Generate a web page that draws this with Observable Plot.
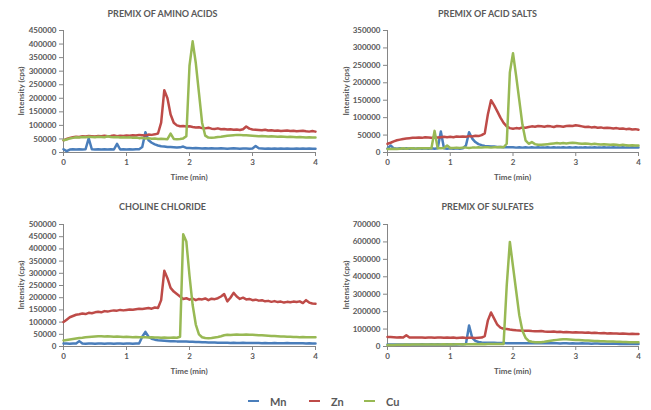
<!DOCTYPE html>
<html><head><meta charset="utf-8">
<script src="https://cdn.jsdelivr.net/npm/d3@7"></script>
<script src="https://cdn.jsdelivr.net/npm/@observablehq/plot@0.6"></script>
<style>
body{margin:0;background:#fff;}
#chart{position:relative;width:651px;height:410px;overflow:hidden;font-family:Lato,"Open Sans",sans-serif;color:#595959;}
.panel{position:absolute;}
.lbl{position:absolute;font-weight:bold;white-space:nowrap;transform:translate(-50%,-50%);}
.title{font-size:9px;}
.axl{font-size:8px;}
.leg{position:absolute;font-weight:bold;font-size:11px;transform:translateY(-50%);}
.sw{position:absolute;height:2px;width:11px;}
</style>
</head><body>
<div id="chart"></div>
<script>
// time (min), one sample every 0.05 min
const time = [0,0.05,0.1,0.15,0.2,0.25,0.3,0.35,0.4,0.45,0.5,0.55,0.6,0.65,0.7,0.75,0.8,0.85,0.9,0.95,
1,1.05,1.1,1.15,1.2,1.25,1.3,1.35,1.4,1.45,1.5,1.55,1.6,1.65,1.7,1.75,1.8,1.85,1.9,1.95,
2,2.05,2.1,2.15,2.2,2.25,2.3,2.35,2.4,2.45,2.5,2.55,2.6,2.65,2.7,2.75,2.8,2.85,2.9,2.95,
3,3.05,3.1,3.15,3.2,3.25,3.3,3.35,3.4,3.45,3.5,3.55,3.6,3.65,3.7,3.75,3.8,3.85,3.9,3.95,4];

const seriesNames = ["Mn","Zn","Cu"];
const seriesColors = ["#4a7ebb","#be4b48","#98b954"];
const xTicks = [0,1,2,3,4];

// PREMIX OF AMINO ACIDS
const aminoMn = [12000,5000,11000,12000,11000,12000,11000,12000,52000,12000,
11000,12000,11000,12000,11000,12000,11000,32000,11000,12000,
11000,12000,11000,12000,12000,20000,75000,45000,36000,30000,
26000,23000,22000,20000,20000,19000,18000,19000,22000,17000,
17000,16000,17000,16000,15000,16000,15000,16000,15000,15000,
16000,15000,14000,15000,16000,15000,14000,15000,15000,14000,
15000,24000,16000,15000,14000,15000,14000,15000,14000,15000,
14000,15000,14000,14000,15000,14000,15000,14000,15000,14000,14000];
const aminoZn = [45000,50000,54000,56000,58000,57000,60000,59000,61000,60000,
59000,61000,60000,62000,60000,61000,63000,60000,62000,61000,
63000,62000,64000,63000,65000,64000,63000,66000,65000,67000,
70000,110000,230000,200000,140000,110000,100000,97000,98000,96000,
97000,94000,92000,93000,90000,89000,91000,88000,87000,89000,
86000,87000,85000,86000,84000,85000,83000,86000,96000,88000,
85000,84000,83000,82000,84000,81000,82000,80000,81000,79000,
80000,81000,79000,80000,78000,79000,80000,78000,77000,79000,77000];
const aminoCu = [45000,48000,52000,54000,56000,55000,57000,56000,58000,57000,
56000,58000,57000,56000,60000,57000,56000,57000,55000,56000,
55000,56000,54000,55000,53000,54000,52000,53000,51000,52000,
50000,51000,50000,49000,70000,50000,49000,50000,52000,60000,
320000,410000,330000,220000,110000,62000,55000,54000,55000,57000,
58000,60000,62000,63000,64000,65000,65000,64000,64000,63000,
62000,61000,60000,61000,60000,59000,60000,59000,58000,59000,
58000,57000,58000,57000,56000,57000,56000,55000,56000,55000,55000];

// PREMIX OF ACID SALTS
const saltsMn = [12000,20000,12000,11000,12000,11000,12000,11000,12000,11000,
12000,11000,12000,11000,12000,11000,12000,60000,12000,11000,
12000,11000,12000,11000,12000,20000,58000,40000,30000,24000,
21000,19000,18000,17000,17000,16000,16000,15000,15000,15000,
15000,14000,15000,14000,15000,14000,15000,14000,15000,14000,
14000,15000,14000,15000,14000,14000,15000,14000,15000,14000,
15000,14000,14000,15000,14000,14000,15000,14000,14000,15000,
14000,14000,15000,14000,14000,15000,14000,14000,15000,14000,14000];
const saltsZn = [25000,28000,32000,35000,37000,39000,40000,41000,42000,42000,
43000,42000,44000,43000,42000,44000,43000,44000,45000,44000,
45000,44000,46000,45000,46000,45000,47000,46000,48000,47000,
50000,55000,110000,150000,135000,118000,100000,85000,75000,70000,
68000,70000,69000,72000,71000,73000,75000,74000,76000,75000,
74000,76000,75000,73000,76000,75000,74000,76000,77000,76000,
78000,77000,75000,73000,74000,72000,73000,71000,72000,70000,
71000,70000,69000,70000,68000,69000,67000,68000,66000,67000,65000];
const saltsCu = [10000,10000,11000,10000,11000,12000,11000,12000,12000,11000,
12000,12000,12000,12000,12000,62000,12000,12000,13000,20000,
13000,13000,14000,13000,14000,14000,13000,14000,14000,15000,
14000,15000,15000,14000,15000,15000,16000,15000,25000,230000,
285000,220000,150000,80000,35000,25000,30000,24000,22000,22000,
23000,24000,25000,26000,27000,26000,27000,26000,27000,28000,
27000,26000,25000,26000,25000,24000,25000,24000,23000,24000,
23000,22000,23000,22000,21000,22000,21000,20000,21000,20000,20000];

// CHOLINE CHLORIDE
const cholineMn = [12000,12000,11000,12000,12000,22000,12000,11000,12000,12000,
11000,12000,12000,11000,12000,12000,11000,12000,12000,11000,
12000,12000,11000,12000,12000,40000,60000,40000,32000,28000,
26000,25000,24000,23000,22000,22000,21000,21000,20000,20000,
19000,19000,18000,18000,17000,17000,16000,16000,16000,15000,
15000,15000,15000,14000,15000,14000,14000,15000,14000,14000,
14000,14000,14000,13000,14000,13000,13000,14000,13000,13000,
13000,14000,13000,13000,13000,13000,13000,12000,13000,12000,12000];
const cholineZn = [100000,110000,120000,125000,130000,132000,135000,133000,138000,136000,
140000,142000,140000,145000,143000,146000,148000,147000,150000,148000,
150000,152000,151000,153000,155000,154000,156000,158000,155000,160000,
158000,190000,310000,280000,240000,225000,215000,205000,195000,198000,
192000,196000,190000,195000,193000,197000,190000,196000,194000,198000,
205000,215000,185000,200000,220000,205000,195000,200000,193000,195000,
190000,192000,188000,190000,185000,187000,183000,186000,182000,184000,
180000,183000,181000,184000,182000,185000,178000,190000,180000,176000,175000];
const cholineCu = [25000,27000,29000,31000,33000,35000,36000,38000,39000,40000,
41000,42000,42000,41000,42000,41000,40000,41000,40000,39000,
40000,39000,38000,39000,38000,38000,38000,37000,38000,37000,
37000,36000,37000,36000,36000,37000,36000,40000,460000,430000,
290000,170000,90000,50000,38000,35000,34000,35000,37000,39000,
42000,46000,48000,47000,48000,49000,48000,48000,49000,48000,
48000,47000,46000,46000,45000,44000,43000,43000,42000,41000,
41000,40000,40000,39000,39000,38000,39000,38000,38000,38000,38000];

// PREMIX OF SULFATES
const sulfatesMn = [12000,12000,11000,12000,12000,11000,12000,12000,11000,12000,
12000,13000,12000,12000,13000,12000,13000,12000,12000,13000,
12000,13000,12000,13000,13000,15000,120000,50000,32000,26000,
23000,22000,21000,21000,22000,20000,20000,20000,19000,19000,
19000,18000,19000,18000,19000,18000,18000,19000,18000,18000,
18000,18000,19000,18000,18000,17000,18000,18000,17000,18000,
17000,17000,18000,17000,17000,16000,17000,17000,16000,16000,
16000,16000,17000,16000,15000,16000,15000,15000,16000,15000,15000];
const sulfatesZn = [55000,54000,53000,52000,53000,52000,65000,52000,51000,52000,
51000,52000,50000,51000,52000,50000,51000,52000,50000,51000,
50000,51000,49000,50000,51000,49000,50000,50000,49000,50000,
51000,60000,150000,195000,160000,125000,108000,102000,100000,97000,
95000,93000,92000,91000,90000,91000,89000,88000,87000,89000,
86000,85000,84000,86000,83000,84000,82000,83000,82000,81000,
82000,80000,81000,79000,80000,78000,79000,77000,76000,77000,
75000,76000,74000,75000,73000,74000,73000,72000,73000,72000,72000];
const sulfatesCu = [8000,9000,9000,10000,10000,10000,11000,10000,11000,11000,
11000,11000,12000,11000,12000,12000,12000,12000,13000,12000,
13000,12000,13000,13000,12000,13000,13000,13000,14000,13000,
14000,13000,14000,14000,14000,15000,14000,15000,350000,600000,
460000,320000,180000,90000,50000,32000,27000,25000,24000,25000,
27000,30000,33000,36000,38000,40000,42000,41000,40000,39000,
38000,37000,36000,35000,34000,33000,32000,31000,30000,30000,
29000,28000,28000,27000,27000,26000,26000,25000,25000,24000,24000];

const titles = ["PREMIX OF AMINO ACIDS","PREMIX OF ACID SALTS","CHOLINE CHLORIDE","PREMIX OF SULFATES"];
const yTicksAmino = [0,50000,100000,150000,200000,250000,300000,350000,400000,450000];
const yTicksSalts = [0,50000,100000,150000,200000,250000,300000,350000];
const yTicksCholine = [0,50000,100000,150000,200000,250000,300000,350000,400000,450000,500000];
const yTicksSulfates = [0,100000,200000,300000,400000,500000,600000,700000];
const xLabel = "Time (min)";
const yLabel = "Intensity (cps)";

const panels = [
  {title: titles[0], series: [aminoMn, aminoZn, aminoCu], yTicks: yTicksAmino, left: 0, top: 0, mL: 63, mR: 10, mT: 30, mB: 38},
  {title: titles[1], series: [saltsMn, saltsZn, saltsCu], yTicks: yTicksSalts, left: 325, top: 0, mL: 62, mR: 12, mT: 30, mB: 38},
  {title: titles[2], series: [cholineMn, cholineZn, cholineCu], yTicks: yTicksCholine, left: 0, top: 190, mL: 63, mR: 10, mT: 34, mB: 34},
  {title: titles[3], series: [sulfatesMn, sulfatesZn, sulfatesCu], yTicks: yTicksSulfates, left: 325, top: 190, mL: 62, mR: 12, mT: 34, mB: 34}
];

const chart = document.getElementById("chart");
const W = 325, H = 190;

function addLabel(text, cls, x, y, rotate) {
  const d = document.createElement("div");
  d.className = "lbl " + cls;
  d.textContent = text;
  d.style.left = x + "px";
  d.style.top = y + "px";
  if (rotate) d.style.transform = "translate(-50%,-50%) rotate(-90deg)";
  chart.appendChild(d);
}

for (const p of panels) {
  const rows = [];
  p.series.forEach((vals, si) => {
    vals.forEach((v, i) => rows.push({t: time[i], v, s: seriesNames[si]}));
  });
  const ymax = p.yTicks[p.yTicks.length - 1];
  const svg = Plot.plot({
    width: W, height: H,
    marginLeft: p.mL, marginRight: p.mR, marginTop: p.mT, marginBottom: p.mB,
    style: {fontFamily: "Lato, 'Open Sans', sans-serif", fontSize: "8px", fontWeight: "bold", color: "#595959", background: "transparent"},
    x: {domain: [0, 4]},
    y: {domain: [0, ymax]},
    color: {domain: seriesNames, range: seriesColors},
    marks: [
      Plot.axisX(xTicks, {tickSize: 4, tickPadding: 3, stroke: "#868686", tickFormat: d => String(d), label: null}),
      Plot.axisY(p.yTicks, {tickSize: 4, tickPadding: 3, stroke: "#868686", tickFormat: d => String(d), label: null}),
      Plot.ruleX([0], {stroke: "#868686"}),
      Plot.ruleY([0], {stroke: "#868686"}),
      Plot.lineY(rows, {x: "t", y: "v", z: "s", stroke: "s", strokeWidth: 2.5, strokeLinejoin: "round"})
    ]
  });
  svg.classList.add("panel");
  svg.style.left = p.left + "px";
  svg.style.top = p.top + "px";
  chart.appendChild(svg);
  const plotTop = p.mT, plotBottom = H - p.mB;
  const cx = p.left + p.mL + (W - p.mL - p.mR) / 2;
  addLabel(p.title, "title", p.left + W / 2, p.top + (p.top ? 16 : 12.5));
  addLabel(yLabel, "axl", p.left + 21, p.top + (plotTop + plotBottom) / 2, true);
  addLabel(xLabel, "axl", cx, p.top + plotBottom + 25);
}

// legend
const legX = [248, 309, 364];
seriesNames.forEach((name, i) => {
  const sw = document.createElement("div");
  sw.className = "sw";
  sw.style.left = legX[i] + "px";
  sw.style.top = "400px";
  sw.style.background = seriesColors[i];
  chart.appendChild(sw);
  const t = document.createElement("div");
  t.className = "leg";
  t.textContent = name;
  t.style.left = (legX[i] + 22) + "px";
  t.style.top = "401px";
  chart.appendChild(t);
});
</script>
</body></html>
